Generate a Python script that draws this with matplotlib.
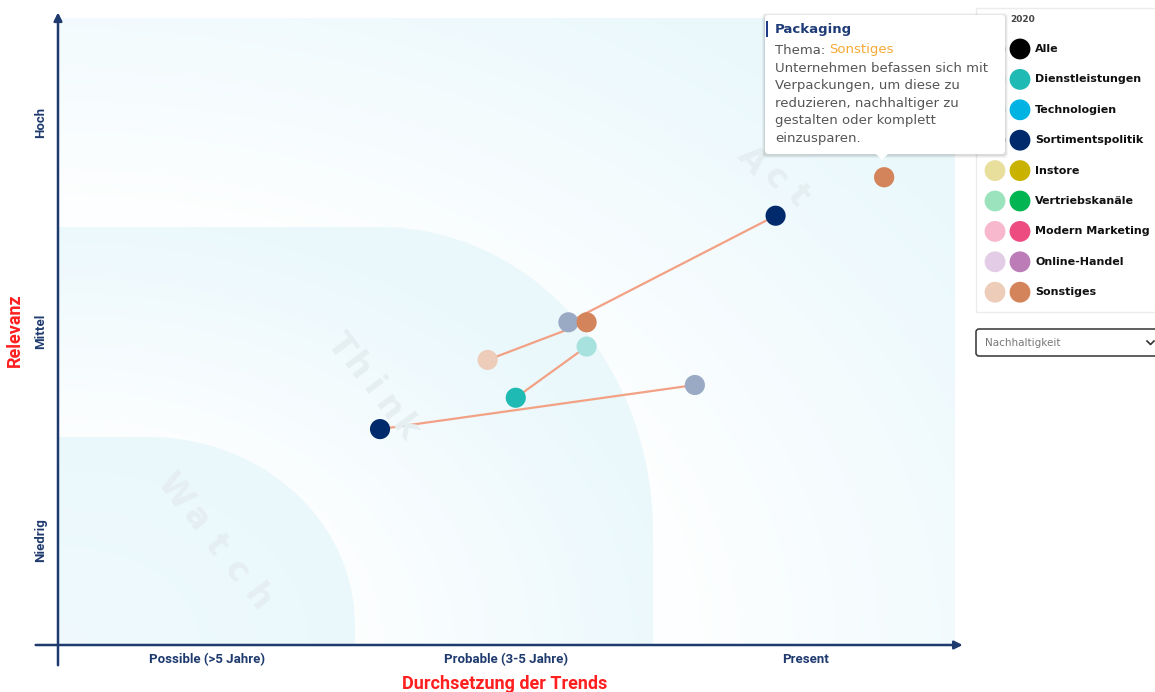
import numpy as np
import matplotlib
matplotlib.use("Agg")
import matplotlib.pyplot as plt
from matplotlib.path import Path
from matplotlib.patches import PathPatch, Rectangle, FancyBboxPatch, Polygon

# Kategorien und Farben (alt = Vorjahr, neu = 2020)
categories = ["Alle", "Dienstleistungen", "Technologien", "Sortimentspolitik", "Instore",
              "Vertriebskanäle", "Modern Marketing", "Online-Handel", "Sonstiges"]
color_old = ["#b4b4b4", "#a8e2df", "#a6dcec", "#9aaac4", "#e8df9c",
             "#9be3bd", "#f7b7cd", "#e3cde6", "#edcdb9"]
color_new = ["#000000", "#1fbab3", "#00b3e3", "#002a6b", "#c9b300",
             "#00b552", "#ec4c80", "#bb7cb8", "#d4845a"]

# Trends: Kategorie, Position alt -> Position neu
trend_cat = ["Sonstiges", "Sortimentspolitik", "Sonstiges", "Dienstleistungen", "Sortimentspolitik"]
old_x = [2.763, 1.707, 1.437, 1.768, 2.130]
old_y = [2.238, 1.544, 1.364, 1.428, 1.244]
new_x = [2.763, 2.400, 1.768, 1.531, 1.077]
new_y = [2.238, 2.054, 1.544, 1.183, 1.033]

x_ticks = ["Possible (>5 Jahre)", "Probable (3-5 Jahre)", "Present"]
y_ticks = ["Niedrig", "Mittel", "Hoch"]

W, H = 1155, 692
fig = plt.figure(figsize=(W / 100, H / 100), dpi=100)
ax = fig.add_axes([58 / W, 47 / H, 897 / W, 627 / H])
ax.set_xlim(0, 3)
ax.set_ylim(0, 3)
for s in ax.spines.values():
    s.set_visible(False)

navy = "#1f3a6e"
blue = np.array([0.918, 0.973, 0.99])
white = np.array([0.99, 0.997, 1.0])


def rounded(w, h, rx, ry):
    t = np.linspace(np.pi / 2, 0, 40)
    arc = np.c_[w - rx + rx * np.cos(t), h - ry + ry * np.sin(t)]
    verts = np.vstack([[0, 0], [0, h], arc, [w, 0], [0, 0]])
    codes = [Path.MOVETO] + [Path.LINETO] * (len(verts) - 2) + [Path.CLOSEPOLY]
    return Path(verts, codes)


gx, gy = np.meshgrid(np.linspace(0, 3, 400), np.linspace(0, 3, 400))


def shade(s):
    s = np.clip(s, 0, 1)[..., None]
    return white * (1 - s) + blue * s


# Act (ganze Fläche)
r_act = np.hypot(gx / 3, gy / 3)
img = ax.imshow(shade((r_act - 0.72) / 0.5), extent=(0, 3, 0, 3), origin="lower", zorder=0, aspect="auto")
img.set_clip_path(Rectangle((0, 0), 3, 3, transform=ax.transData))

# Think
think = rounded(1.99, 2.0, 0.913, 1.46)
r_th = np.hypot(gx / 2, gy / 2)
img = ax.imshow(shade((r_th - 0.5) / 0.55), extent=(0, 3, 0, 3), origin="lower", zorder=1, aspect="auto")
img.set_clip_path(PathPatch(think, transform=ax.transData))

# Watch
watch = rounded(0.993, 0.995, 0.69, 0.9)
r_w = np.hypot(gx, gy)
img = ax.imshow(shade(0.7 + 0.3 * r_w), extent=(0, 3, 0, 3), origin="lower", zorder=2, aspect="auto")
img.set_clip_path(PathPatch(watch, transform=ax.transData))

# Verbindungslinien und Punkte
ax.plot([old_x, new_x], [old_y, new_y], color="#f2a185", lw=1.6, zorder=4, solid_capstyle="round")
ci = [categories.index(c) for c in trend_cat]
ax.scatter(old_x, old_y, s=210, c=[color_old[i] for i in ci], zorder=5, linewidths=0)
ax.scatter(new_x, new_y, s=210, c=[color_new[i] for i in ci], zorder=6, linewidths=0)

# Achsen
ax.annotate("", xy=(3.035, 0), xytext=(-0.084, 0), annotation_clip=False,
            arrowprops=dict(arrowstyle="-|>", color=navy, lw=1.8, mutation_scale=12), zorder=7)
ax.annotate("", xy=(0, 3.04), xytext=(0, -0.11), annotation_clip=False,
            arrowprops=dict(arrowstyle="-|>", color=navy, lw=1.8, mutation_scale=12), zorder=7)

ax.set_xticks([0.5, 1.5, 2.5], x_ticks)
ax.set_yticks([0.5, 1.5, 2.5], y_ticks)
ax.tick_params(length=0)
ax.tick_params(axis="x", pad=6)
ax.tick_params(axis="y", pad=8)
for lab in ax.get_xticklabels() + ax.get_yticklabels():
    lab.set_fontfamily("Roboto")
    lab.set_fontweight("bold")
    lab.set_fontsize(9.5)
    lab.set_color(navy)
for lab in ax.get_yticklabels():
    lab.set_rotation(90)
    lab.set_va("center")

fig.text(505 / W, 1 - 684 / H, "Durchsetzung der Trends", color="#ff1f1f", fontsize=13,
         fontweight="bold", family="Roboto", ha="center", va="center")
fig.text(15 / W, 1 - 330 / H, "Relevanz", color="#ff1f1f", fontsize=13,
         fontweight="bold", family="Roboto", ha="center", va="center", rotation=90)

# UI-Ebene: Wasserzeichen, Legende, Tooltip, Auswahlfeld (Pixelkoordinaten)
ui = fig.add_axes([0, 0, 1, 1], zorder=10)
ui.set_xlim(0, W)
ui.set_ylim(H, 0)
ui.axis("off")
ui.patch.set_alpha(0)


def watermark(word, p0, p1, rot):
    xs = np.linspace(p0[0], p1[0], len(word))
    ys = np.linspace(p0[1], p1[1], len(word))
    for ch, x, y in zip(word, xs, ys):
        ui.text(x, y, ch, color="#e5eff1", fontsize=24, fontweight="bold", rotation=rot,
                ha="center", va="center", zorder=0)


watermark("Watch", (175, 492), (257, 598), -53)
watermark("Think", (340, 346), (404, 428), -53)
watermark("Act", (752, 160), (798, 196), -48)

ui.add_patch(Rectangle((976, 8), 200, 304, facecolor="white", edgecolor="#ececec", lw=1, zorder=1))
ui.text(1004, 19, "2019", fontsize=6.5, fontweight="bold", color="#555555", ha="right", va="center", zorder=2)
ui.text(1010, 19, "2020", fontsize=6.5, fontweight="bold", color="#444444", ha="left", va="center", zorder=2)
rows = 49 + 30.4 * np.arange(len(categories))
ui.scatter(np.full(len(categories), 995), rows, s=225, c=color_old, linewidths=0, zorder=2)
ui.scatter(np.full(len(categories), 1020), rows, s=225, c=color_new, linewidths=0, zorder=2)
for y, name in zip(rows, categories):
    ui.text(1035, y, name, fontsize=8, fontweight="bold", color="#111111", va="center", ha="left", zorder=2)

# Dropdown
ui.add_patch(FancyBboxPatch((976, 329), 200, 27, boxstyle="round,pad=0,rounding_size=3",
                            facecolor="white", edgecolor="#333333", lw=1.1, zorder=2))
ui.text(985, 343, "Nachhaltigkeit", fontsize=7.5, color="#777777", va="center", ha="left", zorder=3)
ui.plot([1147, 1150.5, 1154], [341, 344.5, 341], color="#333333", lw=1.2, zorder=3)

# Tooltip
for k, a in [(4, 0.04), (3, 0.05), (2, 0.06)]:
    ui.add_patch(FancyBboxPatch((765 - k + 1, 15 - k + 2), 240 + 2 * k - 2, 139 + 2 * k - 2,
                                boxstyle="round,pad=0,rounding_size=4", facecolor="black",
                                edgecolor="none", alpha=a, zorder=4))
ui.add_patch(FancyBboxPatch((765, 15), 240, 139, boxstyle="round,pad=0,rounding_size=3",
                            facecolor="white", edgecolor="none", zorder=5))
ui.add_patch(Polygon([[875, 153], [889, 153], [882, 160]], closed=True, facecolor="white",
                     edgecolor="none", zorder=5))
ui.add_patch(Rectangle((765.5, 21), 2.5, 16, facecolor="#1f3c88", edgecolor="none", zorder=6))
ui.text(775, 29, "Packaging", fontsize=9.5, fontweight="bold", color="#1f3c78", va="center", zorder=6)
t1 = ui.text(775, 50, "Thema: ", fontsize=9.5, color="#555555", va="center", zorder=6)
fig.canvas.draw()
bb = t1.get_window_extent()
x_end = ui.transData.inverted().transform((bb.x1, bb.y0))[0]
ui.text(x_end, 50, "Sonstiges", fontsize=9.5, color="#f7a934", va="center", zorder=6)
body = ["Unternehmen befassen sich mit", "Verpackungen, um diese zu",
        "reduzieren, nachhaltiger zu", "gestalten oder komplett", "einzusparen."]
for i, line in enumerate(body):
    ui.text(775, 68 + 17.6 * i, line, fontsize=9.5, color="#555555", va="center", zorder=6)

fig.savefig("out.png", dpi=100)
